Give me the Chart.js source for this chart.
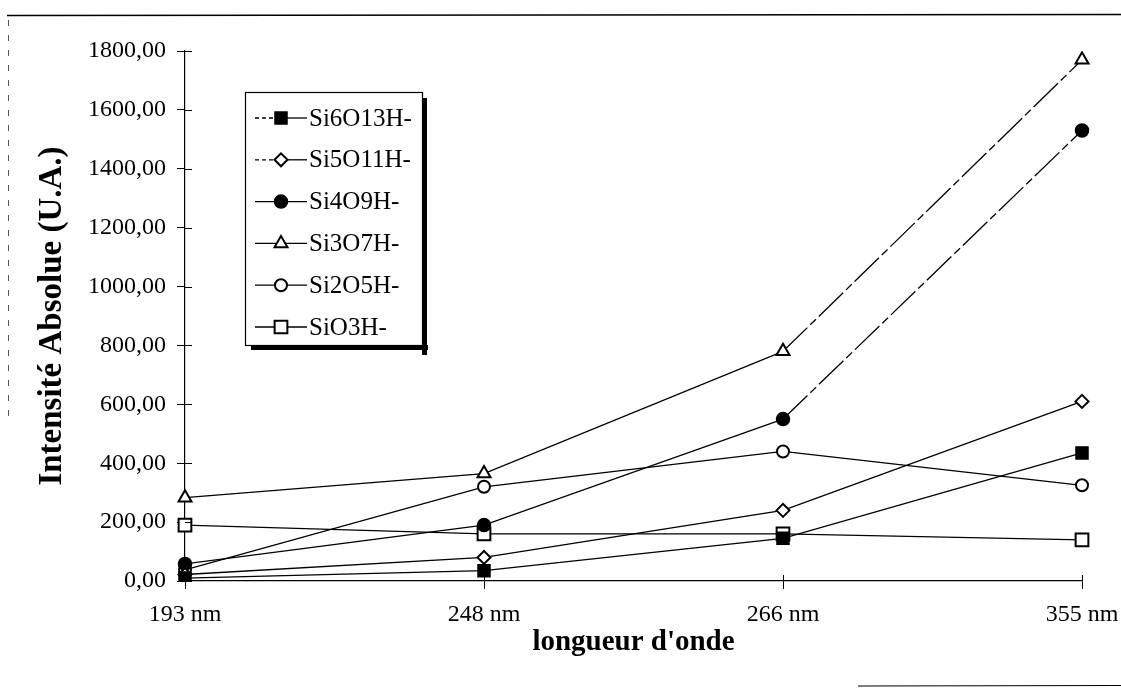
<!DOCTYPE html>
<html>
<head>
<meta charset="utf-8">
<script src="https://cdn.jsdelivr.net/npm/chart.js@4.4.1/dist/chart.umd.min.js"></script>
<style>
  html, body { margin: 0; padding: 0; background: #ffffff; }
  #wrap { width: 1121px; height: 689px; position: relative; }
</style>
</head>
<body>
<div id="wrap"><canvas id="c" width="1121" height="689"></canvas></div>
<script>
// ---- data ----
const categories = ['193 nm', '248 nm', '266 nm', '355 nm'];
const seriesNames = ['Si6O13H-', 'Si5O11H-', 'Si4O9H-', 'Si3O7H-', 'Si2O5H-', 'SiO3H-'];
const si6o13h = [10, 35, 145, 435];
const si5o11h = [22, 80, 240, 610];
const si4o9h  = [58, 190, 550, 1530];
const si3o7h  = [283, 365, 780, 1770];
const si2o5h  = [38, 320, 440, 325];
const sio3h   = [190, 160, 160, 140];
const yMin = 0, yMax = 1800, yStep = 200;
const xTitle = "longueur d'onde";
const yTitle = 'Intensité Absolue (U.A.)';

const FONT = "'Liberation Serif', 'Times New Roman', serif";

const markerDefs = [
  { style: 'rect',     radius: 8.5, fill: '#000', bw: 1.5 },
  { style: 'rectRot',  radius: 6.5, fill: '#fff', bw: 2 },
  { style: 'circle',   radius: 6.5, fill: '#000', bw: 1.5 },
  { style: 'triangle', radius: 7.5, fill: '#fff', bw: 2 },
  { style: 'circle',   radius: 6,   fill: '#fff', bw: 2 },
  { style: 'rect',     radius: 9,   fill: '#fff', bw: 2 }
];
const allData = [si6o13h, si5o11h, si4o9h, si3o7h, si2o5h, sio3h];
const dashedLast = [false, false, true, true, false, false];

const datasets = allData.map((d, i) => ({
  label: seriesNames[i],
  data: d,
  borderColor: '#000',
  borderWidth: 1.3,
  backgroundColor: markerDefs[i].fill,
  pointStyle: markerDefs[i].style,
  pointRadius: markerDefs[i].radius,
  pointBorderWidth: markerDefs[i].bw,
  pointBorderColor: '#000',
  pointBackgroundColor: markerDefs[i].fill,
  tension: 0,
  fill: false,
  segment: dashedLast[i] ? { borderDash: ctx => ctx.p0DataIndex === 2 ? [34, 4, 8, 4] : undefined } : undefined
}));

function drawMarker(ctx, def, x, y) {
  const r = def.radius;
  ctx.save();
  ctx.beginPath();
  if (def.style === 'rect') {
    const s = Math.SQRT1_2 * r;
    ctx.rect(x - s, y - s, 2 * s, 2 * s);
  } else if (def.style === 'rectRot') {
    ctx.moveTo(x - r, y); ctx.lineTo(x, y - r); ctx.lineTo(x + r, y); ctx.lineTo(x, y + r); ctx.closePath();
  } else if (def.style === 'triangle') {
    const xo = Math.cos(Math.PI / 6) * r, yo = Math.sin(Math.PI / 6) * r;
    ctx.moveTo(x, y - r); ctx.lineTo(x + xo, y + yo); ctx.lineTo(x - xo, y + yo); ctx.closePath();
  } else {
    ctx.arc(x, y, r, 0, Math.PI * 2);
  }
  ctx.fillStyle = def.fill;
  ctx.fill();
  ctx.lineWidth = def.bw;
  ctx.strokeStyle = '#000';
  ctx.stroke();
  ctx.restore();
}

const decorPlugin = {
  id: 'decor',
  beforeDraw(chart) {
    const ctx = chart.ctx;
    ctx.save();
    ctx.fillStyle = '#fff';
    ctx.fillRect(0, 0, chart.width, chart.height);
    // scanned frame remnants
    ctx.strokeStyle = '#000';
    ctx.lineWidth = 1.5;
    ctx.beginPath(); ctx.moveTo(7, 15.5); ctx.lineTo(1121, 14.5); ctx.stroke();
    ctx.lineWidth = 1.2;
    ctx.beginPath(); ctx.moveTo(858, 686); ctx.lineTo(1121, 685.5); ctx.stroke();
    ctx.strokeStyle = '#555';
    ctx.lineWidth = 1;
    ctx.setLineDash([6, 9]);
    ctx.beginPath(); ctx.moveTo(8.5, 20); ctx.lineTo(8.5, 420); ctx.stroke();
    ctx.restore();
  },
  afterDatasetsDraw(chart) {
    const ctx = chart.ctx;
    const xs = chart.scales.x, ys = chart.scales.y;
    ctx.save();
    ctx.strokeStyle = '#000';
    ctx.lineWidth = 1;
    // inner halves of tick marks
    ys.ticks.forEach((t, i) => {
      const py = Math.round(ys.getPixelForTick(i)) + 0.5;
      ctx.beginPath(); ctx.moveTo(xs.left, py); ctx.lineTo(xs.left + 7, py); ctx.stroke();
    });
    xs.ticks.forEach((t, i) => {
      const px = Math.round(xs.getPixelForTick(i)) + 0.5;
      ctx.beginPath(); ctx.moveTo(px, ys.bottom); ctx.lineTo(px, ys.bottom - 6); ctx.stroke();
    });
    ctx.restore();
  },
  afterDraw(chart) {
    const ctx = chart.ctx;
    // legend box
    const L = 245, T = 92, R = 422, B = 345;
    ctx.save();
    ctx.fillStyle = '#000';
    ctx.fillRect(L + 6, B, R - L + 0, 5);      // bottom shadow
    ctx.fillRect(R, T + 6, 5, B - T + 4);     // right shadow
    ctx.fillStyle = '#fff';
    ctx.fillRect(L, T, R - L, B - T);
    ctx.strokeStyle = '#000';
    ctx.lineWidth = 1.2;
    ctx.strokeRect(L + 0.5, T + 0.5, R - L, B - T);
    const rowStart = 118, rowGap = 41.8;
    ctx.font = '25px ' + FONT;
    ctx.textBaseline = 'middle';
    ctx.textAlign = 'left';
    seriesNames.forEach((name, i) => {
      const y = rowStart + i * rowGap;
      ctx.lineWidth = 1.3;
      ctx.strokeStyle = '#000';
      if (i < 2) {
        ctx.setLineDash([4, 3]);
        ctx.beginPath(); ctx.moveTo(255, y); ctx.lineTo(276, y); ctx.stroke();
        ctx.setLineDash([]);
        ctx.beginPath(); ctx.moveTo(276, y); ctx.lineTo(307, y); ctx.stroke();
      } else {
        ctx.beginPath(); ctx.moveTo(255, y); ctx.lineTo(307, y); ctx.stroke();
      }
      const def = Object.assign({}, markerDefs[i]);
      drawMarker(ctx, def, 281, y);
      ctx.fillStyle = '#000';
      ctx.fillText(name, 309, y + 1);
    });
    ctx.restore();
  }
};

new Chart(document.getElementById('c'), {
  type: 'line',
  data: { labels: categories, datasets },
  options: {
    responsive: false,
    animation: false,
    devicePixelRatio: 1,
    layout: { padding: { top: 51, right: 39, left: 0, bottom: 0 } },
    plugins: { legend: { display: false }, tooltip: { enabled: false } },
    scales: {
      x: {
        type: 'category',
        offset: false,
        grid: { display: true, drawOnChartArea: false, drawTicks: true, tickLength: 8, color: '#000', lineWidth: 1 },
        border: { display: true, color: '#000', width: 1.2 },
        ticks: { color: '#000', font: { family: FONT, size: 24 }, padding: 11, maxRotation: 0, autoSkip: false },
        title: { display: true, text: xTitle, color: '#000', font: { family: FONT, size: 29, weight: 'bold' }, padding: { top: 0, bottom: 29 } },
        afterFit(scale) { scale.height = 108; scale.paddingLeft = 0; scale.paddingRight = 0; }
      },
      y: {
        min: yMin, max: yMax,
        grid: { display: true, drawOnChartArea: false, drawTicks: true, tickLength: 8, color: '#000', lineWidth: 1 },
        border: { display: true, color: '#000', width: 1.2 },
        ticks: {
          stepSize: yStep, color: '#000', font: { family: FONT, size: 24 }, padding: 11,
          callback: v => v.toFixed(2).replace('.', ',')
        },
        title: { display: true, text: yTitle, color: '#000', font: { family: FONT, size: 33, weight: 'bold' }, padding: { top: 33, bottom: 0 } },
        afterFit(scale) { scale.width = 185; scale.paddingTop = 0; scale.paddingBottom = 0; }
      }
    }
  },
  plugins: [decorPlugin]
});
</script>
</body>
</html>
